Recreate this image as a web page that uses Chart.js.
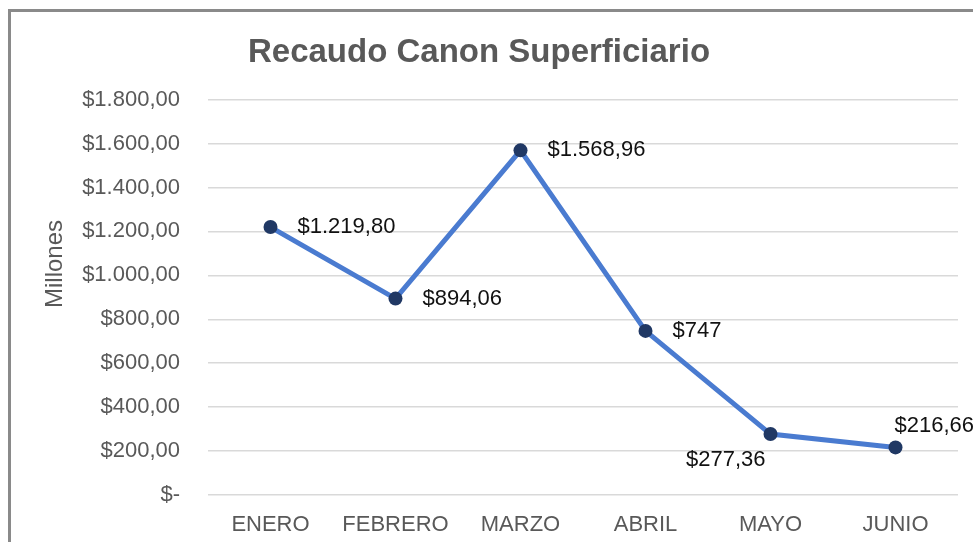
<!DOCTYPE html>
<html>
<head>
<meta charset="utf-8">
<script src="https://cdn.jsdelivr.net/npm/chart.js@4/dist/chart.umd.min.js"></script>
<style>
    html, body { margin: 0; padding: 0; background: #fff; overflow: hidden; }
    #wrap { position: relative; width: 973px; height: 542px; }
    #frame {
        position: absolute; left: 8px; top: 9px; right: -10px; bottom: -10px;
        border-left: 3px solid #8a8a8a; border-top: 3px solid #8a8a8a;
        pointer-events: none;
    }
    canvas { position: absolute; left: 0; top: 0; }
</style>
</head>
<body>
<div id="wrap">
    <canvas id="recaudoChart" width="973" height="542"></canvas>
    <div id="frame"></div>
</div>
<script>
// Data
const months = ['ENERO', 'FEBRERO', 'MARZO', 'ABRIL', 'MAYO', 'JUNIO'];
const recaudo = [1219.80, 894.06, 1568.96, 747, 277.36, 216.66];
const valueLabels = ['$1.219,80', '$894,06', '$1.568,96', '$747', '$277,36', '$216,66'];
const yTickLabels = ['$-', '$200,00', '$400,00', '$600,00', '$800,00', '$1.000,00',
                     '$1.200,00', '$1.400,00', '$1.600,00', '$1.800,00'];
const yTitle = 'Millones';

const FONT = '"Liberation Sans", Arial, sans-serif';

// value labels next to each point (right of point, except MAYO below-left and JUNIO above)
const valueLabelPlugin = {
    id: 'valueLabels',
    afterDatasetsDraw(chart) {
        const ctx = chart.ctx;
        const meta = chart.getDatasetMeta(0);
        ctx.save();
        ctx.font = '22px ' + FONT;
        ctx.fillStyle = '#111';
        ctx.textBaseline = 'middle';
        meta.data.forEach((pt, i) => {
            const txt = valueLabels[i];
            if (i === 4) {
                ctx.textAlign = 'right';
                ctx.fillText(txt, pt.x - 5, pt.y + 26);
            } else if (i === 5) {
                ctx.textAlign = 'left';
                ctx.fillText(txt, pt.x - 1, pt.y - 21);
            } else {
                ctx.textAlign = 'left';
                ctx.fillText(txt, pt.x + 27, pt.y);
            }
        });
        ctx.restore();
    }
};

// y axis title, centred on the whole chart height like the original
const yTitlePlugin = {
    id: 'yTitle',
    afterDraw(chart) {
        const ctx = chart.ctx;
        ctx.save();
        ctx.translate(55, 264);
        ctx.rotate(-Math.PI / 2);
        ctx.font = '24px ' + FONT;
        ctx.fillStyle = '#595959';
        ctx.textAlign = 'center';
        ctx.textBaseline = 'middle';
        ctx.fillText(yTitle, 0, 0);
        ctx.restore();
    }
};

new Chart(document.getElementById('recaudoChart'), {
    type: 'line',
    data: {
        labels: months,
        datasets: [{
            data: recaudo,
            borderColor: '#4A7BD0',
            borderWidth: 5,
            pointRadius: 7,
            pointHoverRadius: 7,
            pointBackgroundColor: '#203864',
            pointBorderColor: '#203864',
            pointBorderWidth: 0,
            tension: 0
        }]
    },
    options: {
        responsive: false,
        animation: false,
        layout: { padding: { left: 0, right: 15, top: 0, bottom: 0 } },
        plugins: {
            legend: { display: false },
            tooltip: { enabled: false },
            title: {
                display: true,
                text: 'Recaudo Canon Superficiario',
                color: '#595959',
                font: { family: FONT, size: 33, weight: 'bold' },
                padding: { top: 33, bottom: 27 }
            }
        },
        scales: {
            x: {
                offset: true,
                grid: { display: false },
                border: { display: false },
                ticks: {
                    color: '#595959',
                    font: { family: FONT, size: 22 },
                    padding: 9,
                    maxRotation: 0,
                    autoSkip: false
                },
                afterFit(scale) { scale.height = 47; }
            },
            y: {
                min: 0,
                max: 1800,
                border: { display: false },
                grid: { color: '#d9d9d9', lineWidth: 1.5, drawTicks: false },
                ticks: {
                    stepSize: 200,
                    color: '#595959',
                    font: { family: FONT, size: 22 },
                    padding: 28,
                    callback: (v) => yTickLabels[Math.round(v / 200)]
                },
                afterFit(scale) { scale.width = 208; }
            }
        }
    },
    plugins: [valueLabelPlugin, yTitlePlugin]
});
</script>
</body>
</html>
